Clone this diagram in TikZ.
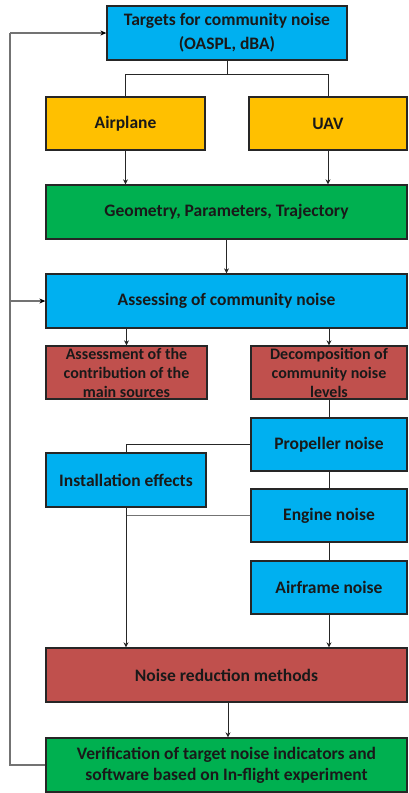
\documentclass[tikz,border=0pt]{standalone}
\usepackage{fontspec}
\setmainfont{Carlito}
\usetikzlibrary{arrows.meta}
\definecolor{cblue}{HTML}{00B0F0}
\definecolor{cgold}{HTML}{FFC000}
\definecolor{cgreen}{HTML}{00B050}
\definecolor{cred}{HTML}{C0504D}
\tikzset{
  box/.style={draw=black!85, line width=1.3pt, inner sep=0pt, align=center,
    font=\fontsize{17.5}{21}\selectfont\bfseries, text=black!90},
  conn/.style={draw=black!85, line width=0.9pt},
  greyconn/.style={draw=black!55, line width=1.4pt},
  arr/.style={conn, -{Stealth[length=5pt,width=5pt]}},
  greyarr/.style={greyconn, -{Stealth[length=6pt,width=5pt,color=black]}},
}
\begin{document}
\begin{tikzpicture}[x=1pt,y=-1pt]
\useasboundingbox (0,0) rectangle (408,793);
\node[box, fill=cblue, minimum width=240pt, minimum height=54pt, font=\fontsize{17.5}{24}\selectfont\bfseries] (top) at (227,33) {Targets for community noise\\(OASPL, dBA)};
\node[box, fill=cgold, minimum width=159pt, minimum height=53pt] (air) at (125.5,123.5) {Airplane};
\node[box, fill=cgold, minimum width=158pt, minimum height=53pt] (uav) at (328,123.5) {UAV};
\node[box, fill=cgreen, minimum width=361pt, minimum height=54pt] (geo) at (226.5,212) {Geometry, Parameters, Trajectory};
\node[box, fill=cblue, minimum width=361pt, minimum height=54pt] (ass) at (226.5,301) {Assessing of community noise};
\node[box, fill=cred, minimum width=161pt, minimum height=53pt, font=\fontsize{16}{19}\selectfont\bfseries] (red1) at (126.5,372.5) {Assessment of the\\contribution of the\\main sources};
\node[box, fill=cred, minimum width=156pt, minimum height=53pt, font=\fontsize{16}{19}\selectfont\bfseries] (red2) at (329,372.5) {Decomposition of\\community noise\\levels};
\node[box, fill=cblue, minimum width=156pt, minimum height=53pt] (prop) at (329,444.5) {Propeller noise};
\node[box, fill=cblue, minimum width=160pt, minimum height=54pt] (inst) at (126,480) {Installation effects};
\node[box, fill=cblue, minimum width=156pt, minimum height=53pt] (eng) at (329,515.5) {Engine noise};
\node[box, fill=cblue, minimum width=156pt, minimum height=53pt] (airf) at (329,587.5) {Airframe noise};
\node[box, fill=cred, minimum width=361pt, minimum height=54pt] (nr) at (226.5,675) {Noise reduction methods};
\node[box, fill=cgreen, minimum width=361pt, minimum height=54pt, font=\fontsize{17.5}{21}\selectfont\bfseries] (ver) at (226.5,765) {Verification of target noise indicators and\\software based on In-flight experiment};
% connectors
\coordinate (split) at (227,74);
\draw[conn] (top.south) -- (split);
\draw[conn] (split) -| (air.north);
\draw[conn] (split) -| (uav.north);
\draw[arr] (air.south) -- (air.south |- geo.north);
\draw[arr] (uav.south) -- (uav.south |- geo.north);
\draw[arr] (geo.south) -- (ass.north);
\draw[arr] (red1.north |- ass.south) -- (red1.north);
\draw[arr] (red2.north |- ass.south) -- (red2.north);
\draw[conn] (red2.south) -- (prop.north);
\draw[conn] (prop.west) -| (inst.north);
\draw[conn] (prop.south) -- (eng.north);
\draw[greyconn] (eng.west) -- (eng.west -| inst.south);
\draw[arr] (inst.south) -- (inst.south |- nr.north);
\draw[conn] (eng.south) -- (airf.north);
\draw[arr] (airf.south) -- (airf.south |- nr.north);
\draw[arr] ([xshift=1.5pt]nr.south) -- ([xshift=1.5pt]ver.north);
\coordinate (fbl) at (10,765);
\coordinate (fbt) at (10,33);
\coordinate (fbm) at (10,301);
\draw[greyconn] (ver.west) -- (fbl) -- (fbt);
\draw[greyarr] (fbt) -- (top.west);
\draw[greyarr] (fbm) -- (ass.west);
\end{tikzpicture}
\end{document}
